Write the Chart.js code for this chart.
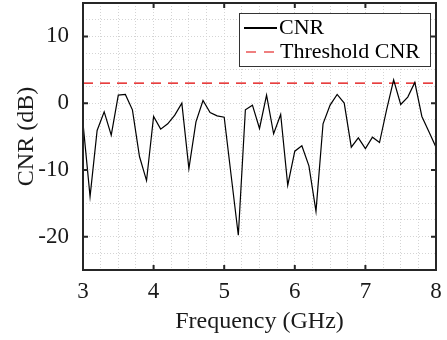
<!DOCTYPE html>
<html>
<head>
<meta charset="utf-8">
<script src="https://cdn.jsdelivr.net/npm/chart.js@4/dist/chart.umd.min.js"></script>
<style>
  body { margin: 0; background: #fff; }
</style>
</head>
<body>
<canvas id="cnrChart" width="447" height="340"></canvas>
<script>
// frequency points (GHz) and measured CNR (dB)
const freqs = [3.0, 3.1, 3.2, 3.3, 3.4, 3.5, 3.6, 3.7, 3.8, 3.9,
               4.0, 4.1, 4.2, 4.3, 4.4, 4.5, 4.6, 4.7, 4.8, 4.9,
               5.0, 5.1, 5.2, 5.3, 5.4, 5.5, 5.6, 5.7, 5.8, 5.9,
               6.0, 6.1, 6.2, 6.3, 6.4, 6.5, 6.6, 6.7, 6.8, 6.9,
               7.0, 7.1, 7.2, 7.3, 7.4, 7.5, 7.6, 7.7, 7.8, 7.9, 8.0];
const cnrValues = [-3.0, -14.0, -4.1, -1.3, -4.8, 1.2, 1.3, -1.0, -8.0, -11.6,
                   -2.0, -3.9, -3.1, -1.8, 0.0, -9.8, -2.8, 0.4, -1.4, -1.9,
                   -2.1, -11.0, -19.8, -1.0, -0.3, -3.8, 1.2, -4.6, -1.7, -12.3,
                   -7.2, -6.4, -9.4, -16.2, -3.1, -0.3, 1.3, 0.0, -6.6, -5.2,
                   -6.8, -5.1, -5.9, -1.0, 3.5, -0.2, 0.9, 3.1, -2.0, -4.3, -6.6];
const thresholdFreqs = [3, 8];
const thresholdValues = [3, 3];

const xTickLabels = [3, 4, 5, 6, 7, 8];
const yTickLabels = [-20, -10, 0, 10];

const SERIF = '"Liberation Serif", "DejaVu Serif", serif';
const FRAME = '#262626';

// box around the axes, inward ticks, and the legend box
const framePlugin = {
    id: 'frame',
    afterDraw(chart) {
        const { ctx, chartArea: a, scales: { x, y } } = chart;
        ctx.save();
        ctx.strokeStyle = FRAME;
        ctx.lineWidth = 2;
        ctx.strokeRect(a.left, a.top, a.right - a.left, a.bottom - a.top);

        const tl = 5;
        ctx.beginPath();
        xTickLabels.forEach(v => {
            const px = x.getPixelForValue(v);
            ctx.moveTo(px, a.bottom); ctx.lineTo(px, a.bottom - tl);
            ctx.moveTo(px, a.top); ctx.lineTo(px, a.top + tl);
        });
        yTickLabels.forEach(v => {
            const py = y.getPixelForValue(v);
            ctx.moveTo(a.left, py); ctx.lineTo(a.left + tl, py);
            ctx.moveTo(a.right, py); ctx.lineTo(a.right - tl, py);
        });
        ctx.stroke();

        // legend
        const lx = 239.5, ly = 13.5, lw = 191, lh = 53;
        ctx.fillStyle = '#fff';
        ctx.fillRect(lx, ly, lw, lh);
        ctx.strokeStyle = '#333';
        ctx.lineWidth = 1;
        ctx.strokeRect(lx, ly, lw, lh);

        ctx.beginPath();
        ctx.strokeStyle = '#000';
        ctx.lineWidth = 2;
        ctx.moveTo(244, 28); ctx.lineTo(277, 28);
        ctx.stroke();

        ctx.beginPath();
        ctx.strokeStyle = '#e00000';
        ctx.lineWidth = 1.2;
        ctx.setLineDash([10, 8]);
        ctx.moveTo(246, 52); ctx.lineTo(277, 52);
        ctx.stroke();
        ctx.setLineDash([]);

        ctx.fillStyle = '#000';
        ctx.font = '22px ' + SERIF;
        ctx.textBaseline = 'middle';
        ctx.textAlign = 'left';
        ctx.fillText('CNR', 279, 28);
        ctx.fillText('Threshold CNR', 280, 52);
        ctx.restore();
    }
};

const grid = {
    color: '#d4d4d4',
    lineWidth: 1,
    drawTicks: false
};

new Chart(document.getElementById('cnrChart'), {
    type: 'line',
    data: {
        datasets: [{
            label: 'CNR',
            data: freqs.map((f, i) => ({ x: f, y: cnrValues[i] })),
            borderColor: '#000',
            borderWidth: 1.2,
            pointRadius: 0,
            tension: 0
        }, {
            label: 'Threshold CNR',
            data: thresholdFreqs.map((f, i) => ({ x: f, y: thresholdValues[i] })),
            borderColor: '#e00000',
            borderWidth: 1.2,
            borderDash: [10, 7],
            pointRadius: 0
        }]
    },
    options: {
        responsive: false,
        animation: false,
        layout: { padding: { top: 3, right: 11, left: 0, bottom: 0 } },
        plugins: {
            legend: { display: false },
            tooltip: { enabled: false }
        },
        scales: {
            x: {
                type: 'linear',
                min: 3,
                max: 8,
                grid: grid,
                border: { display: false, dash: [1, 2] },
                ticks: {
                    stepSize: 0.25,
                    autoSkip: false,
                    maxRotation: 0,
                    padding: 8,
                    color: '#1a1a1a',
                    font: { family: SERIF, size: 23 },
                    callback: v => xTickLabels.includes(v) ? String(v) : ''
                },
                title: {
                    display: true,
                    text: 'Frequency (GHz)',
                    color: '#1a1a1a',
                    font: { family: SERIF, size: 24 },
                    padding: { top: 0, bottom: 4 }
                },
                afterFit: s => { s.height = 70; s.paddingLeft = 0; s.paddingRight = 0; }
            },
            y: {
                min: -25,
                max: 15,
                grid: grid,
                border: { display: false, dash: [1, 2] },
                ticks: {
                    stepSize: 2.5,
                    autoSkip: false,
                    padding: 14,
                    color: '#1a1a1a',
                    font: { family: SERIF, size: 23 },
                    callback: v => yTickLabels.includes(v) ? String(v) : ''
                },
                title: {
                    display: true,
                    text: 'CNR (dB)',
                    color: '#1a1a1a',
                    font: { family: SERIF, size: 24 },
                    padding: { top: 12, bottom: 0 }
                },
                afterFit: s => { s.width = 83; s.paddingTop = 0; s.paddingBottom = 0; }
            }
        }
    },
    plugins: [framePlugin]
});
</script>
</body>
</html>
